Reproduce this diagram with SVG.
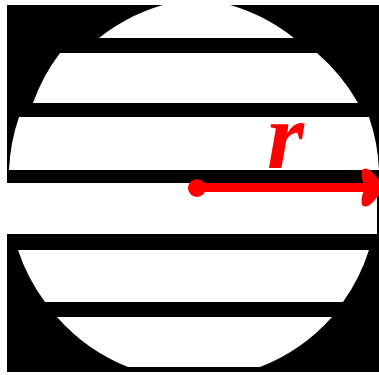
<svg xmlns="http://www.w3.org/2000/svg" width="379" height="375" viewBox="0 0 379 375">
  <style>
    .red { fill: #ff0000; }
    .lbl { font-family: "Liberation Serif", "Times New Roman", serif; font-weight: bold; font-style: italic; fill: #ff0000; }
  </style>
  <rect x="0" y="0" width="379" height="375" fill="#ffffff"/>
  <rect x="7" y="5" width="372" height="367" fill="#000000"/>
  <g id="disc">
    <path fill="#ffffff" d="M175,2 A185,185 0 0 0 99,38 A185,185 0 0 0 60,53 A185,185 0 0 0 33,103 A185,185 0 0 0 19,117 A185,185 0 0 0 9,170 L7,183 L7,234 A185,185 0 0 0 18,250 A185,185 0 0 0 45,302 A185,185 0 0 0 57,317 A185,185 0 0 0 128,367 L260,367 A185,185 0 0 0 332,317 A185,185 0 0 0 343,302 A185,185 0 0 0 369,250 A185,185 0 0 0 377,234 L377,183 L379,170 A185,185 0 0 0 369,117 A185,185 0 0 0 358,103 A185,185 0 0 0 317,53 A185,185 0 0 0 294,38 A185,185 0 0 0 218,2 Z"/>
    <rect x="7" y="38" width="372" height="15" fill="#000000"/>
    <rect x="7" y="103" width="372" height="14" fill="#000000"/>
    <rect x="7" y="170" width="372" height="13" fill="#000000"/>
    <rect x="7" y="234" width="372" height="16" fill="#000000"/>
    <rect x="7" y="302" width="372" height="15" fill="#000000"/>
  </g>
  <g id="connectors">
    <rect class="red" x="197" y="183" width="170" height="9"/>
    <path class="red" d="M362,170 Q366,166 372,172 L386,187.5 L372,203 Q366,209 362,205 Q360,196 366,187.5 Q360,179 362,170 Z"/>
    <circle class="red" cx="197" cy="188" r="9"/>
  </g>
  <g id="label-r">
    <text class="lbl" x="267" y="168" font-size="95">r</text>
  </g>
</svg>
